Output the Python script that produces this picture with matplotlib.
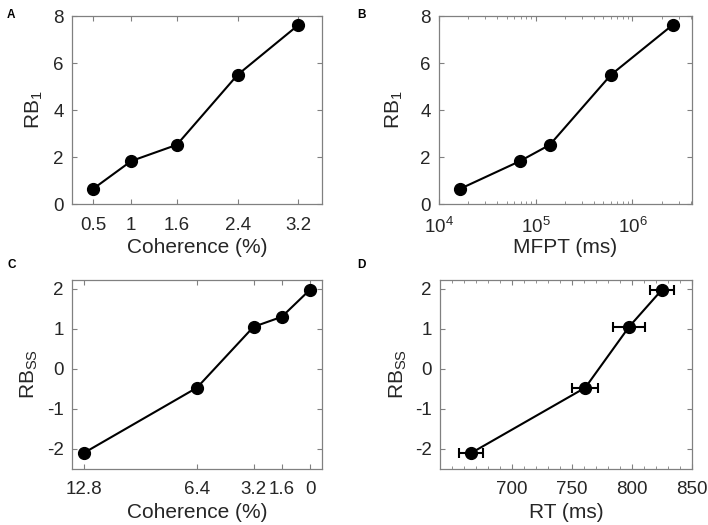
import numpy as np
import matplotlib
matplotlib.use("Agg")
import matplotlib.pyplot as plt
from matplotlib.ticker import MultipleLocator, NullLocator, LogLocator, NullFormatter

plt.rcParams["font.family"] = ["Liberation Sans", "DejaVu Sans"]
plt.rcParams["mathtext.default"] = "regular"
plt.rcParams["axes.unicode_minus"] = False

# panel A / B: RB_1 vs coherence and MFPT
coh_a = [0.5, 1.0, 1.6, 2.4, 3.2]
coh_a_labels = ["0.5", "1", "1.6", "2.4", "3.2"]
rb1 = [0.65, 1.83, 2.52, 5.5, 7.62]
mfpt = [1.66e4, 6.9e4, 1.4e5, 6.0e5, 2.6e6]

# panel C / D: RB_ss vs coherence and RT
coh_c = [12.8, 6.4, 3.2, 1.6, 0.0]
coh_c_labels = ["12.8", "6.4", "3.2", "1.6", "0"]
rbss = [-2.1, -0.47, 1.05, 1.3, 1.98]
rt = [666, 761, 797.5, 825]
rt_err = [10, 11, 13, 10]
rbss_rt = [-2.1, -0.47, 1.05, 1.98]

FRAME = "#808080"
TXT = "#262626"


def style(ax):
    for s in ax.spines.values():
        s.set_color(FRAME)
        s.set_linewidth(0.9)
    ax.tick_params(which="both", direction="in", top=True, right=True,
                   color=FRAME, labelcolor=TXT, labelsize=13.5)
    ax.tick_params(axis="x", which="both", pad=9)
    ax.tick_params(axis="y", which="both", pad=6)
    ax.tick_params(which="major", length=3.5)
    ax.tick_params(which="minor", length=2)


fig = plt.figure(figsize=(7.08, 5.25), dpi=100)
axA = fig.add_axes([0.1017, 0.6114, 0.353, 0.358])
axB = fig.add_axes([0.620, 0.6114, 0.357, 0.358])
axC = fig.add_axes([0.1017, 0.1067, 0.353, 0.36])
axD = fig.add_axes([0.6215, 0.1067, 0.356, 0.36])

mk = dict(color="black", lw=1.5, marker="o", ms=8.5)
lab = dict(fontsize=15, color=TXT)
XLAB_Y = -0.18

# A
axA.plot(coh_a, rb1, **mk)
axA.set_xlim(0.22, 3.51)
axA.set_ylim(0, 8)
axA.set_xticks(coh_a)
axA.set_xticklabels(coh_a_labels)
axA.set_yticks([0, 2, 4, 6, 8])
axA.set_xlabel("Coherence (%)", **lab)
axA.set_ylabel("RB$_1$", **lab)
axA.xaxis.set_label_coords(0.5, XLAB_Y)
axA.yaxis.set_label_coords(-0.11, 0.5)

# B
axB.plot(mfpt, rb1, **mk)
axB.set_xscale("log")
axB.set_xlim(1e4, 4.1e6)
axB.set_ylim(0, 8)
axB.set_yticks([0, 2, 4, 6, 8])
axB.xaxis.set_major_locator(LogLocator(base=10, numticks=10))
axB.xaxis.set_minor_locator(LogLocator(base=10, subs=np.arange(2, 10), numticks=10))
axB.xaxis.set_minor_formatter(NullFormatter())
axB.set_xlabel("MFPT (ms)", **lab)
axB.set_ylabel("RB$_1$", **lab)
axB.xaxis.set_label_coords(0.5, XLAB_Y)
axB.yaxis.set_label_coords(-0.135, 0.5)

# C
axC.plot(coh_c, rbss, **mk)
axC.set_xlim(13.47, -0.67)
axC.set_ylim(-2.5, 2.22)
axC.set_xticks(coh_c)
axC.set_xticklabels(coh_c_labels)
axC.set_yticks([-2, -1, 0, 1, 2])
axC.set_xlabel("Coherence (%)", **lab)
axC.set_ylabel("RB$_{SS}$", **lab)
axC.xaxis.set_label_coords(0.5, XLAB_Y)
axC.yaxis.set_label_coords(-0.128, 0.5)

# D
axD.errorbar(rt, rbss_rt, xerr=rt_err, capsize=3.5, elinewidth=1.5,
             capthick=1.5, **mk)
axD.set_xlim(640, 850)
axD.set_ylim(-2.5, 2.22)
axD.set_xticks([700, 750, 800, 850])
axD.xaxis.set_minor_locator(MultipleLocator(10))
axD.set_yticks([-2, -1, 0, 1, 2])
axD.set_xlabel("RT (ms)", **lab)
axD.set_ylabel("RB$_{SS}$", **lab)
axD.xaxis.set_label_coords(0.5, XLAB_Y)
axD.yaxis.set_label_coords(-0.123, 0.5)

for ax in (axA, axB, axC, axD):
    style(ax)
for ax in (axA, axC):
    ax.xaxis.set_minor_locator(NullLocator())
for ax in (axA, axB, axC, axD):
    ax.yaxis.set_minor_locator(NullLocator())

for letter, x, y in [("A", 0.01, 0.965), ("B", 0.505, 0.965),
                     ("C", 0.01, 0.49), ("D", 0.505, 0.49)]:
    fig.text(x, y, letter, fontsize=8.5, fontweight="bold", color="black")

fig.savefig("out.png", dpi=100)
